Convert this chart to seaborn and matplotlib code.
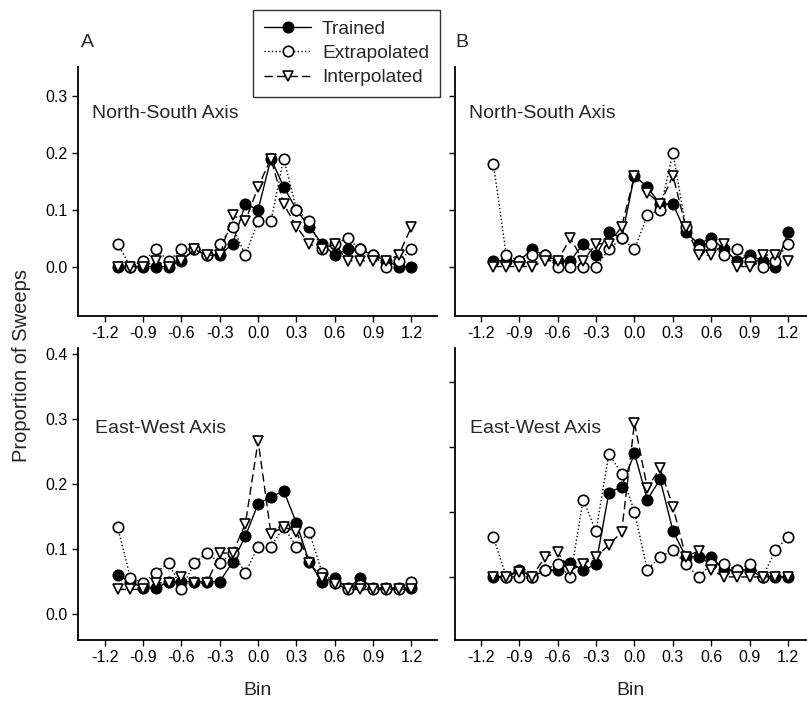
import numpy as np
import pandas as pd
import matplotlib
matplotlib.use("Agg")
import matplotlib.pyplot as plt
from matplotlib.ticker import FormatStrFormatter
import seaborn as sns

# --- Data ---
bins = [-1.1, -1.0, -0.9, -0.8, -0.7, -0.6, -0.5, -0.4, -0.3, -0.2, -0.1, 0.0,
        0.1, 0.2, 0.3, 0.4, 0.5, 0.6, 0.7, 0.8, 0.9, 1.0, 1.1, 1.2]

# A, North-South
ns_a_trained = [0.0, 0.0, 0.0, 0.0, 0.0, 0.01, 0.03, 0.02, 0.02, 0.04, 0.11, 0.10,
                0.19, 0.14, 0.10, 0.07, 0.04, 0.02, 0.03, 0.03, 0.02, 0.01, 0.0, 0.0]
ns_a_extrap = [0.04, 0.0, 0.01, 0.03, 0.01, 0.03, 0.03, 0.02, 0.04, 0.07, 0.02, 0.08,
               0.08, 0.19, 0.10, 0.08, 0.03, 0.04, 0.05, 0.03, 0.02, 0.0, 0.01, 0.03]
ns_a_interp = [0.0, 0.0, 0.0, 0.01, 0.0, 0.01, 0.03, 0.02, 0.02, 0.09, 0.08, 0.14,
               0.19, 0.11, 0.07, 0.04, 0.03, 0.04, 0.01, 0.01, 0.01, 0.01, 0.02, 0.07]

# B, North-South
ns_b_trained = [0.01, 0.01, 0.01, 0.03, 0.02, 0.01, 0.01, 0.04, 0.02, 0.06, 0.05, 0.16,
                0.14, 0.11, 0.11, 0.06, 0.04, 0.05, 0.03, 0.01, 0.02, 0.01, 0.0, 0.06]
ns_b_extrap = [0.18, 0.02, 0.01, 0.02, 0.02, 0.0, 0.0, 0.0, 0.0, 0.03, 0.05, 0.03,
               0.09, 0.10, 0.20, 0.07, 0.03, 0.04, 0.02, 0.03, 0.01, 0.0, 0.01, 0.04]
ns_b_interp = [0.0, 0.0, 0.0, 0.0, 0.01, 0.01, 0.05, 0.01, 0.04, 0.04, 0.07, 0.16,
               0.13, 0.11, 0.16, 0.07, 0.02, 0.02, 0.04, 0.0, 0.0, 0.02, 0.02, 0.01]

# A, East-West
ew_a_trained = [0.06, 0.05, 0.04, 0.04, 0.05, 0.05, 0.05, 0.05, 0.05, 0.08, 0.12, 0.17,
                0.18, 0.19, 0.14, 0.08, 0.05, 0.055, 0.04, 0.055, 0.04, 0.04, 0.04, 0.04]
ew_a_extrap = [0.134, 0.056, 0.048, 0.064, 0.079, 0.039, 0.079, 0.094, 0.079, 0.094, 0.064, 0.104,
               0.104, 0.134, 0.104, 0.127, 0.064, 0.048, 0.039, 0.045, 0.039, 0.039, 0.039, 0.05]
ew_a_interp = [0.038, 0.038, 0.038, 0.048, 0.048, 0.057, 0.048, 0.048, 0.094, 0.094, 0.139, 0.267,
               0.124, 0.134, 0.127, 0.079, 0.055, 0.047, 0.038, 0.038, 0.038, 0.038, 0.038, 0.038]

# B, East-West
ew_b_trained = [0.0, 0.0, 0.011, 0.0, 0.01, 0.01, 0.022, 0.01, 0.02, 0.129, 0.139, 0.19,
                0.119, 0.15, 0.071, 0.031, 0.031, 0.031, 0.01, 0.011, 0.01, 0.0, 0.0, 0.0]
ew_b_extrap = [0.061, 0.0, 0.0, 0.0, 0.011, 0.02, 0.0, 0.119, 0.07, 0.189, 0.159, 0.1,
               0.011, 0.031, 0.041, 0.02, 0.0, 0.02, 0.02, 0.01, 0.02, 0.0, 0.041, 0.062]
ew_b_interp = [0.0, 0.0, 0.008, 0.0, 0.03, 0.038, 0.01, 0.02, 0.031, 0.049, 0.069, 0.237,
               0.137, 0.167, 0.108, 0.031, 0.04, 0.011, 0.0, 0.0, 0.0, 0.0, 0.0, 0.0]

x_ticks = [-1.2, -0.9, -0.6, -0.3, 0.0, 0.3, 0.6, 0.9, 1.2]

sns.set_style("ticks")
plt.rcParams['font.family'] = ['Liberation Sans', 'DejaVu Sans']

fig = plt.figure(figsize=(8.07, 7.03), dpi=100)
W, H = 807, 703


def add_ax(left, right, top, bottom):
    return fig.add_axes([left / W, 1 - bottom / H, (right - left) / W, (bottom - top) / H])


def fig_text(x, y, s, **kw):
    # place text using pixel coords measured from the top-left corner
    return fig.text(x / W, 1 - y / H, s, **kw)


ax_a1 = add_ax(78, 437, 67, 316)
ax_b1 = add_ax(455, 807, 67, 316)
ax_a2 = add_ax(78, 437, 348, 640)
ax_b2 = add_ax(455, 807, 348, 640)

styles = {
    'Trained': dict(marker='o', markerfacecolor='black', linestyle='-'),
    'Extrapolated': dict(marker='o', markerfacecolor='white', linestyle=':'),
    'Interpolated': dict(marker='v', markerfacecolor='white', linestyle=(0, (6, 3))),
}


def draw_panel(ax, trained, extrap, interp):
    df = pd.DataFrame({'bin': bins, 'Trained': trained,
                       'Extrapolated': extrap, 'Interpolated': interp})
    for i, name in enumerate(['Trained', 'Extrapolated', 'Interpolated']):
        sns.lineplot(data=df, x='bin', y=name, ax=ax, color='black', lw=1.0,
                     markersize=7.5, markeredgecolor='black', markeredgewidth=1.2,
                     label=name, zorder=3 + i, legend=False, **styles[name])
    ax.set_xticks(x_ticks)
    ax.xaxis.set_major_formatter(FormatStrFormatter('%.1f'))
    ax.yaxis.set_major_formatter(FormatStrFormatter('%.1f'))
    ax.set_xlabel('')
    ax.set_ylabel('')
    ax.tick_params(direction='out', length=4, width=1, labelsize=11.5, colors='black')
    for s in ['left', 'bottom']:
        ax.spines[s].set_linewidth(1.3)
        ax.spines[s].set_color('black')
    sns.despine(ax=ax)


draw_panel(ax_a1, ns_a_trained, ns_a_extrap, ns_a_interp)
draw_panel(ax_b1, ns_b_trained, ns_b_extrap, ns_b_interp)
draw_panel(ax_a2, ew_a_trained, ew_a_extrap, ew_a_interp)
draw_panel(ax_b2, ew_b_trained, ew_b_extrap, ew_b_interp)

for ax in [ax_a1, ax_b1]:
    ax.set_ylim(-0.087, 0.351)
    ax.set_yticks([0.0, 0.1, 0.2, 0.3])
ax_a2.set_ylim(-0.04, 0.41)
ax_a2.set_yticks([0.0, 0.1, 0.2, 0.3, 0.4])
ax_b2.set_ylim(-0.097, 0.352)
ax_b2.set_yticks([0.0, 0.1, 0.2, 0.3])

for ax in [ax_a1, ax_a2]:
    ax.set_xlim(-1.41, 1.40)
for ax in [ax_b1, ax_b2]:
    ax.set_xlim(-1.40, 1.346)
    ax.tick_params(labelleft=False)

for ax in [ax_a2, ax_b2]:
    ax.set_xlabel('Bin', fontsize=14, labelpad=12)

# panel titles
fig_text(92, 118, 'North-South Axis', fontsize=14, va='baseline')
fig_text(469, 118, 'North-South Axis', fontsize=14, va='baseline')
fig_text(95, 433, 'East-West Axis', fontsize=14, va='baseline')
fig_text(470, 433, 'East-West Axis', fontsize=14, va='baseline')

fig_text(87, 47, 'A', fontsize=14, ha='center', va='baseline')
fig_text(462, 47, 'B', fontsize=14, ha='center', va='baseline')
fig_text(22, 365, 'Proportion of Sweeps', fontsize=14.5, rotation=90,
         ha='center', va='center')

handles, labels = ax_a1.get_legend_handles_labels()
leg = fig.legend(handles, labels, loc='upper left', bbox_to_anchor=(253 / W, 1 - 10 / H),
                 borderaxespad=0, frameon=True, fancybox=False, edgecolor='black',
                 fontsize=13.8, handlelength=2.5, labelspacing=0.35, borderpad=0.55,
                 handletextpad=0.55)
leg.get_frame().set_linewidth(1.0)

fig.savefig('out.png', dpi=100)
